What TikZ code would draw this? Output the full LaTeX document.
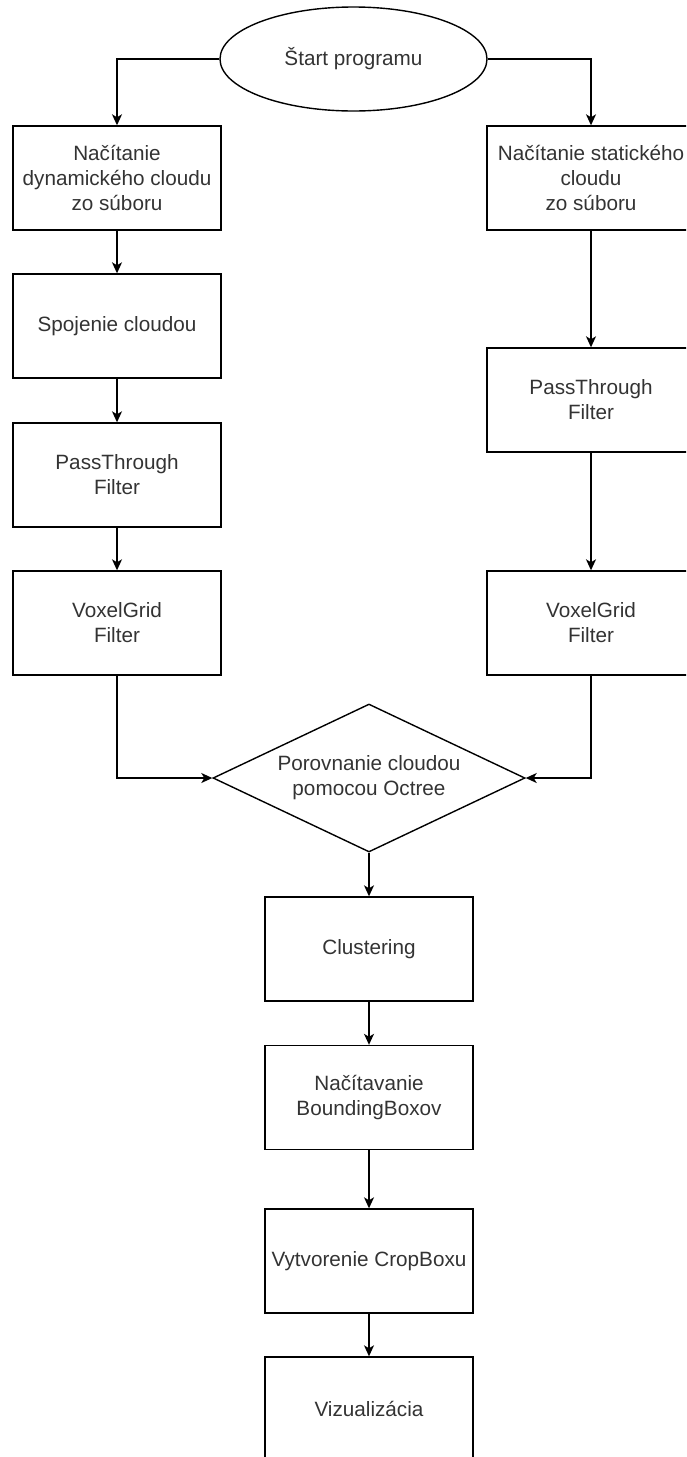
\documentclass[tikz,border=0pt]{standalone}
\usepackage{fontspec}
\setmainfont{Liberation Sans}
\usetikzlibrary{shapes.geometric,arrows.meta}
\definecolor{txtgray}{HTML}{333333}
\tikzset{
  box/.style={draw=black,line width=1.4pt,rectangle,minimum width=208pt,minimum height=104pt,inner sep=0pt,align=center,text=txtgray,font=\fontsize{20.7}{25}\selectfont},
  startshape/.style={draw=black,line width=1.4pt,ellipse,minimum width=267pt,minimum height=104pt,inner sep=0pt,align=center,text=txtgray,font=\fontsize{20.7}{25}\selectfont},
  decision/.style={draw=black,line width=1.4pt,diamond,shape aspect=2.108,minimum width=312pt,minimum height=148pt,inner sep=0pt,align=center,text=txtgray,font=\fontsize{20.7}{25}\selectfont},
  arr/.style={draw=black,line width=1.4pt,-{Stealth[length=11pt,width=10pt,inset=3pt]}}
}
\begin{document}
\begin{tikzpicture}[x=1pt,y=-1pt]
\useasboundingbox (0,0) rectangle (686,1457);
\clip (0,0) rectangle (686,1457);
\node[startshape] (start) at (353.5,59) {Štart programu};
\node[box] (l1) at (117,178) {Načítanie\\dynamického cloudu\\zo súboru};
\node[box] (l2) at (117,326) {Spojenie cloudou};
\node[box] (l3) at (117,475) {PassThrough\\Filter};
\node[box] (l4) at (117,623) {VoxelGrid\\Filter};
\node[box] (r1) at (591,178) {Načítanie statického\\cloudu\\zo súboru};
\node[box] (r2) at (591,400) {PassThrough\\Filter};
\node[box] (r3) at (591,623) {VoxelGrid\\Filter};
\node[decision] (dia) at (369,778) {Porovnanie cloudou\\pomocou Octree};
\node[box] (c1) at (369,949) {Clustering};
\node[box] (c2) at (369,1097.5) {Načítavanie\\BoundingBoxov};
\node[box] (c3) at (369,1261) {Vytvorenie CropBoxu};
\node[box] (c4) at (369,1409) {Vizualizácia};
\draw[arr] (start.west) -| (l1.north);
\draw[arr] (start.east) -| (r1.north);
\draw[arr] (l1) -- (l2);
\draw[arr] (l2) -- (l3);
\draw[arr] (l3) -- (l4);
\draw[arr] (r1) -- (r2);
\draw[arr] (r2) -- (r3);
\draw[arr] (l4.south) |- (dia.west);
\draw[arr] (r3.south) |- (dia.east);
\draw[arr] (dia.south) -- (c1.north);
\draw[arr] (c1) -- (c2);
\draw[arr] (c2) -- (c3);
\draw[arr] (c3) -- (c4);
\end{tikzpicture}
\end{document}
